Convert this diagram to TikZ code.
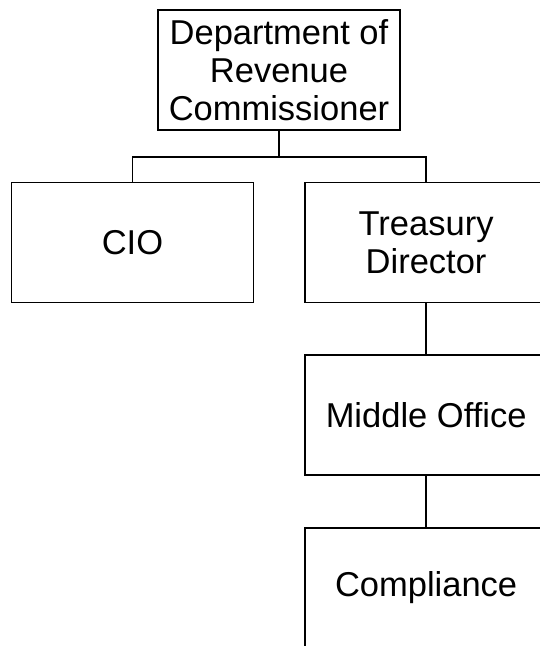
\documentclass[tikz,border=0pt]{standalone}
\usepackage{fontspec}
\setmainfont{Liberation Sans}
\usetikzlibrary{positioning}

\begin{document}
\begin{tikzpicture}[x=1pt, y=1pt,
    orgbox/.style={draw, line width=1.6pt, minimum width=242pt, minimum height=120pt,
        align=center, inner sep=2pt, font=\fontsize{34.5}{38}\selectfont},
    orgline/.style={line width=1.5pt}]
    \useasboundingbox (0,0) rectangle (540,-646);
    \clip (0,0) rectangle (540,-646);
    % top of the chart
    \node[orgbox] (dept) at (279,-70) {Department of\\Revenue\\Commissioner};
    \node[orgbox, below=51pt of dept, xshift=-146.5pt] (cio) {CIO};
    \node[orgbox, right=50pt of cio] (treasury) {Treasury\\Director};
    % treasury branch
    \node[orgbox, below=51pt of treasury] (middle) {Middle Office};
    \node[orgbox, below=51pt of middle] (compliance) {Compliance};
    \draw[orgline] (dept.south) -- ++(0,-26) coordinate (split);
    \draw[orgline] (split) -| (cio.north);
    \draw[orgline] (split) -| (treasury.north);
    \draw[orgline] (treasury) -- (middle);
    \draw[orgline] (middle) -- (compliance);
\end{tikzpicture}
\end{document}
